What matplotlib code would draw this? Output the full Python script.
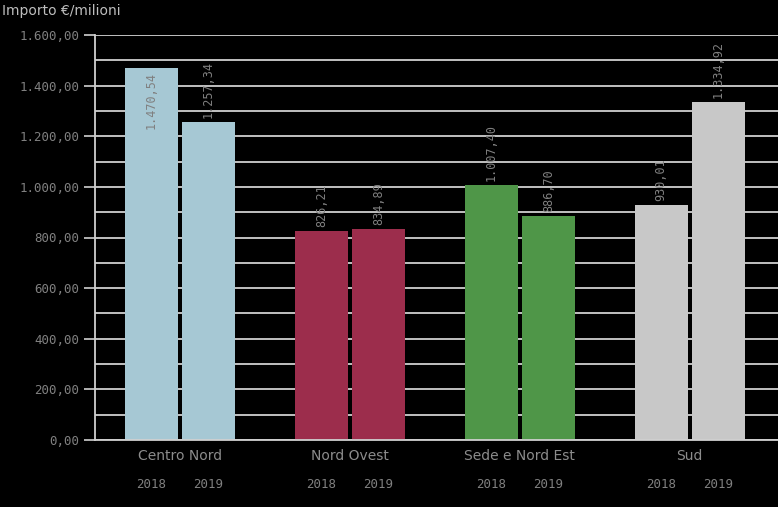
import matplotlib.pyplot as plt
from matplotlib.ticker import MultipleLocator, FuncFormatter
import numpy as np

categories = ['Centro Nord', 'Nord Ovest', 'Sede e Nord Est', 'Sud']
years = ['2018', '2019']
values_2018 = [1470.54, 826.21, 1007.40, 930.01]
values_2019 = [1257.34, 834.89, 886.70, 1334.92]
colors = ['#a6c8d4', '#9c2d4c', '#4f9648', '#c8c8c8']


def it_fmt(v):
    s = '{:,.2f}'.format(v)
    return s.replace(',', 'X').replace('.', ',').replace('X', '.')


fig = plt.figure(figsize=(7.78, 5.07), dpi=100, facecolor='black')
ax = fig.add_axes([95 / 778, 67 / 507, 683 / 778, 405 / 507])
ax.set_facecolor('black')

x = np.arange(len(categories))
w = 0.312
off = 0.168
mono = 'DejaVu Sans Mono'
label_col = '#808080'

ax.set_ylim(0, 1600)
ax.set_xlim(-0.5, 3.52)
ax.yaxis.set_major_locator(MultipleLocator(200))
ax.yaxis.set_minor_locator(MultipleLocator(100))
ax.yaxis.set_major_formatter(FuncFormatter(lambda v, p: it_fmt(v)))
ax.grid(True, which='both', axis='y', color='#d0d0d0', lw=1.3, zorder=0)
ax.set_axisbelow(True)
ax.tick_params(axis='y', which='major', length=8, width=1.2, color='#d0d0d0',
               labelcolor=label_col, labelsize=9)
ax.tick_params(axis='y', which='minor', length=0)
ax.tick_params(axis='x', length=0, labelbottom=False)
for lab in ax.get_yticklabels():
    lab.set_family(mono)
for s in ['top', 'right']:
    ax.spines[s].set_visible(False)
ax.spines['left'].set_color('#d0d0d0')
ax.spines['left'].set_linewidth(1.3)
ax.spines['bottom'].set_color('#d0d0d0')
ax.spines['bottom'].set_linewidth(1.3)

for i, cat in enumerate(categories):
    for j, v in enumerate([values_2018[i], values_2019[i]]):
        xp = x[i] + (off if j else -off)
        ax.bar(xp, v, width=w, color=colors[i], zorder=2)
        txt = it_fmt(v)
        if v > 1400:
            ax.text(xp, v - 15, txt, rotation=90, ha='center', va='top',
                    family=mono, fontsize=8.5, color=label_col, zorder=3)
        else:
            ax.text(xp, v + 15, txt, rotation=90, ha='center', va='bottom',
                    family=mono, fontsize=8.5, color=label_col, zorder=3)
        ax.text(xp, -0.109, years[j], transform=ax.get_xaxis_transform(),
                ha='center', va='center', family=mono, fontsize=9,
                color=label_col)
    ax.text(x[i], -0.04, cat, transform=ax.get_xaxis_transform(),
            ha='center', va='center', fontsize=10, color='#8c8c8c')

fig.text(2 / 778, 1 - 11 / 507, 'Importo €/milioni', ha='left', va='center',
         fontsize=10, color='#bdbdbd')

fig.savefig('out.png', dpi=100, facecolor='black')
